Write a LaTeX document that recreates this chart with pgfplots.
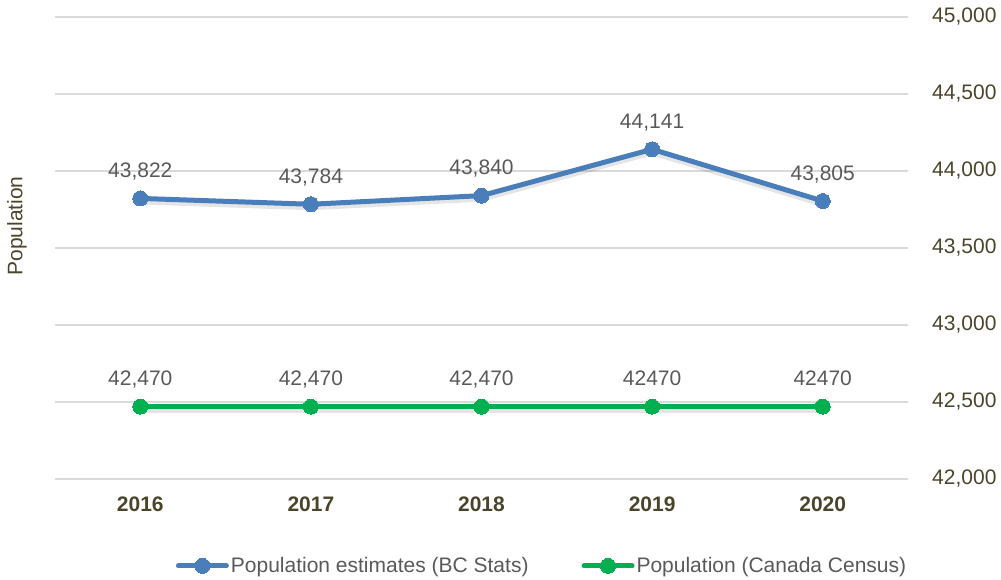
\documentclass[border=0pt]{standalone}
\usepackage{fontspec}
\setmainfont{Liberation Sans}
\usepackage{pgfplots}
\pgfplotsset{compat=1.18}
\definecolor{bcblue}{HTML}{4A7EBB}
\definecolor{cgreen}{HTML}{00B050}
\definecolor{lblgray}{HTML}{595959}
\definecolor{olivetxt}{HTML}{4A452A}
\definecolor{gridgray}{HTML}{D9D9D9}
\begin{document}
\begin{tikzpicture}
\path[use as bounding box] (0pt,0pt) rectangle (1001pt,580pt);
\begin{axis}[
  at={(55pt,101pt)}, anchor=south west,
  scale only axis, width=853pt, height=462pt,
  xmin=2015.5, xmax=2020.5, ymin=42000, ymax=45000,
  xtick={2016,2017,2018,2019,2020},
  xticklabels={2016,2017,2018,2019,2020},
  ytick={42000,42500,43000,43500,44000,44500,45000},
  scaled y ticks=false,
  yticklabel={\pgfmathprintnumber[fixed, precision=0, 1000 sep={,}, assume math mode=true]{\tick}},
  yticklabel pos=right,
  ymajorgrids,
  grid style={gridgray, line width=1.5pt},
  axis line style={draw=none},
  major tick length=0pt,
  yticklabel style={font=\fontsize{21}{25}\selectfont, text=olivetxt, anchor=west, inner sep=0pt, xshift=24pt},
  xticklabel style={font=\fontsize{21}{25}\selectfont\bfseries, text=olivetxt, anchor=north, inner sep=0pt, yshift=-18pt},
  legend columns=2,
  legend style={at={(0.571,-0.188)}, anchor=center, draw=none, fill=none,
    font=\fontsize{21}{25}\selectfont, text=lblgray, inner sep=0pt,
    nodes={inner sep=2pt},
    /tikz/every even column/.append style={column sep=51pt}},
  legend cell align=left,
  legend image code/.code={\draw[#1, line cap=round, mark repeat=2, mark phase=2] plot coordinates {(0pt,0pt) (24pt,0pt) (48pt,0pt)};},
  nodes near coords,
  point meta=explicit symbolic,
  every node near coord/.append style={font=\fontsize{21}{25}\selectfont, text=lblgray, anchor=base, inner sep=0pt, yshift=21pt},
]
% soft shadows
\addplot[forget plot, black, opacity=0.10, line width=6pt, line cap=round, yshift=-3pt, nodes near coords={}] coordinates {(2016,43822) (2017,43784) (2018,43840) (2019,44141) (2020,43805)};
\addplot[forget plot, black, opacity=0.10, line width=6pt, line cap=round, yshift=-3pt, nodes near coords={}] coordinates {(2016,42470) (2017,42470) (2018,42470) (2019,42470) (2020,42470)};
\addplot[bcblue, line width=5pt, mark=*, mark size=7.5pt, mark options={fill=bcblue, draw=bcblue, line width=0pt}] table[meta=label] {
x y label
2016 43822 43,822
2017 43784 43,784
2018 43840 43,840
2019 44141 44,141
2020 43805 43,805
};
\addlegendentry{Population estimates (BC Stats)}
\addplot[cgreen, line width=5pt, mark=*, mark size=7.5pt, mark options={fill=cgreen, draw=cgreen, line width=0pt}] table[meta=label] {
x y label
2016 42470 42,470
2017 42470 42,470
2018 42470 42,470
2019 42470 42470
2020 42470 42470
};
\addlegendentry{Population (Canada Census)}
\end{axis}
\node[rotate=90, font=\fontsize{21}{25}\selectfont, text=olivetxt] at (17pt,354pt) {Population};
\end{tikzpicture}
\end{document}
